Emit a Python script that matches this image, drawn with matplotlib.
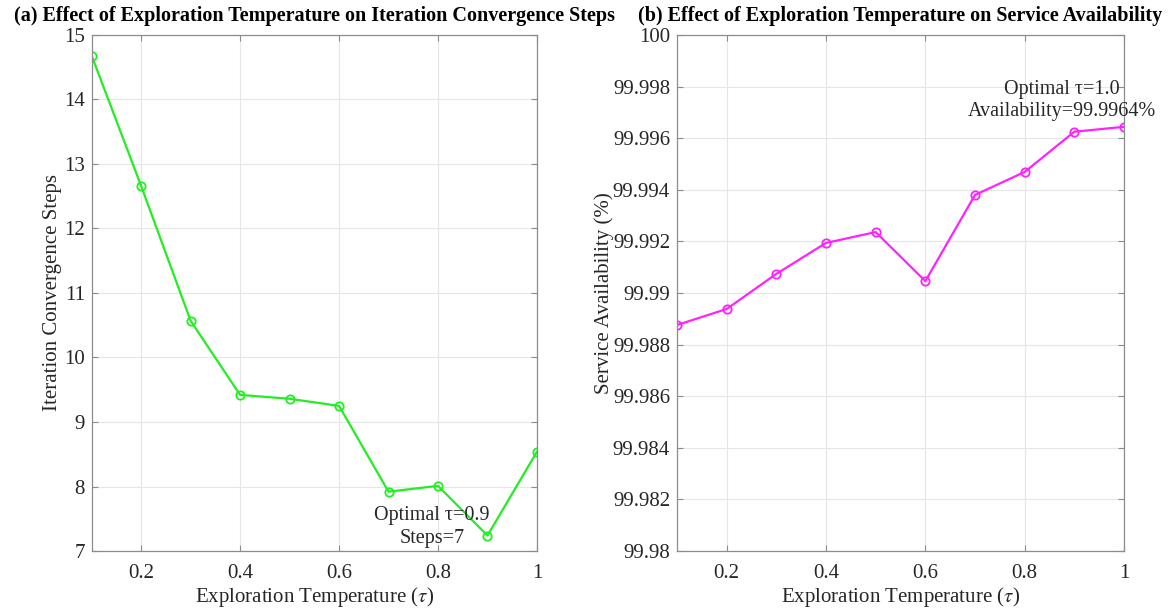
import matplotlib
matplotlib.use("Agg")
import matplotlib.pyplot as plt
from matplotlib.ticker import FuncFormatter

plt.rcParams["font.family"] = ["Liberation Serif", "DejaVu Serif"]
plt.rcParams["mathtext.fontset"] = "stix"

tau = [0.1, 0.2, 0.3, 0.4, 0.5, 0.6, 0.7, 0.8, 0.9, 1.0]
steps = [14.68, 12.66, 10.57, 9.42, 9.36, 9.25, 7.92, 8.01, 7.24, 8.54]
availability = [99.98876, 99.98938, 99.99074, 99.99194, 99.99236,
                 99.99046, 99.99380, 99.99469, 99.99625, 99.99644]

x_ticks = [0.2, 0.4, 0.6, 0.8, 1.0]
steps_ticks = [7, 8, 9, 10, 11, 12, 13, 14, 15]
avail_ticks = [99.98, 99.982, 99.984, 99.986, 99.988, 99.99,
               99.992, 99.994, 99.996, 99.998, 100.0]

best_steps_tau = 0.9
best_avail_tau = 1.0

fig = plt.figure(figsize=(11.75, 6.10), dpi=100)
ax1 = fig.add_axes([0.0780, 0.0967, 0.3790, 0.846])
ax2 = fig.add_axes([0.5762, 0.0967, 0.3804, 0.846])

fmt = FuncFormatter(lambda v, p: f"{v:g}")
xlabel = r"Exploration Temperature ($\tau$)"


def style(ax):
    for s in ax.spines.values():
        s.set_color("#8c8c8c")
        s.set_linewidth(0.9)
    ax.tick_params(direction="in", length=4, width=0.8, color="#8c8c8c",
                   top=True, right=True, labelsize=15, labelcolor="#262626",
                   pad=5)
    ax.tick_params(axis="x", pad=9)
    ax.grid(True, color="#e6e6e6", linewidth=0.8)
    ax.set_axisbelow(True)
    ax.set_xlim(0.1, 1.0)
    ax.set_xticks(x_ticks)
    ax.xaxis.set_major_formatter(fmt)
    ax.set_xlabel(xlabel, fontsize=15, color="#262626", labelpad=2)


# (a) convergence steps
style(ax1)
ax1.plot(tau, steps, color="#22ee22", lw=1.6, marker="o", ms=6,
         mfc="none", mec="#22ee22", mew=1.3)
ax1.set_ylim(7, 15)
ax1.set_yticks(steps_ticks)
ax1.set_ylabel("Iteration Convergence Steps", fontsize=15, color="#262626",
               labelpad=1)
ax1.set_title("(a) Effect of Exploration Temperature on Iteration Convergence Steps",
              fontsize=14.5, fontweight="bold", pad=10)
i1 = tau.index(best_steps_tau)
ax1.text(best_steps_tau - 0.112, steps[i1] - 0.19,
         f"Optimal \u03c4={best_steps_tau:.1f}\nSteps={round(steps[i1])}",
         ha="center", va="bottom", fontsize=14.5, color="#262626",
         linespacing=1.25)

# (b) service availability
style(ax2)
ax2.plot(tau, availability, color="#ff22ff", lw=1.6, marker="o", ms=6,
         mfc="none", mec="#ff22ff", mew=1.3)
ax2.set_ylim(99.98, 100.0)
ax2.set_yticks(avail_ticks)
ax2.yaxis.set_major_formatter(fmt)
ax2.set_ylabel("Service Availability (%)", fontsize=15, color="#262626",
               labelpad=-1)
ax2.set_title("(b) Effect of Exploration Temperature on Service Availability",
              fontsize=14.5, fontweight="bold", pad=10)
i2 = tau.index(best_avail_tau)
ax2.text(best_avail_tau - 0.125, availability[i2] + 0.00022,
         f"Optimal \u03c4={best_avail_tau:.1f}\nAvailability={availability[i2]:.4f}%",
         ha="center", va="bottom", fontsize=14.5, color="#262626",
         linespacing=1.25)

fig.savefig("out.png", dpi=100)
